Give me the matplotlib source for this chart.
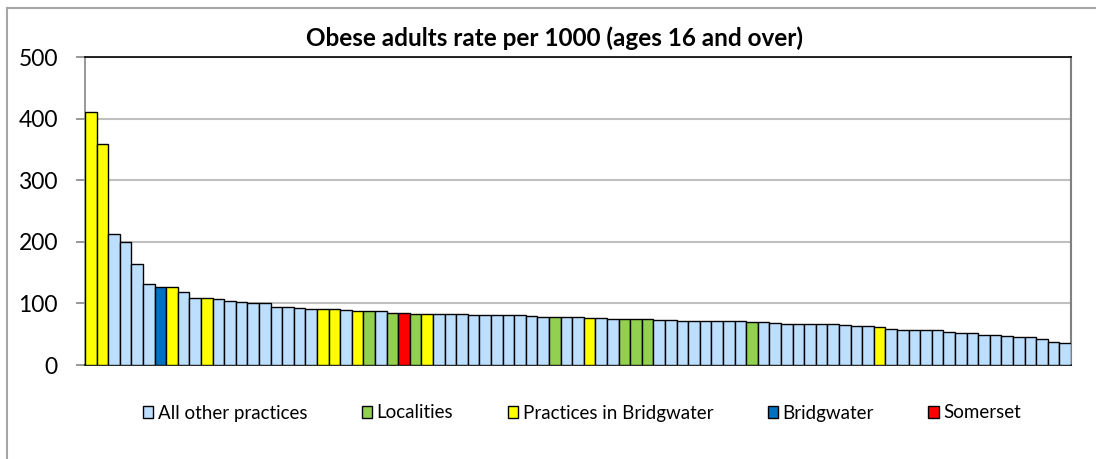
import matplotlib
matplotlib.use("Agg")
import matplotlib.pyplot as plt
import numpy as np
from matplotlib.patches import Patch
from matplotlib.lines import Line2D

# ---- data ----
values = [411, 358, 212, 200, 164, 132, 126, 126, 119, 109,
          108, 107, 104, 102, 101, 100, 94, 94, 92, 91,
          90.6, 90.3, 89.7, 87.6, 87, 87, 84.9, 83.8, 83.2, 83.2,
          82.2, 82, 82, 81.6, 81, 81, 81, 80.5, 79.5, 78.4,
          77.3, 77.3, 77.3, 76.2, 75.7, 74.6, 74, 74, 74, 73,
          72.4, 72, 71.4, 71.4, 71.4, 71.4, 70.8, 69.7, 69.2, 68.1,
          67, 67, 67, 66.5, 66, 64.3, 63.8, 63.2, 61.6, 57.8,
          56.8, 56.8, 56.2, 56.2, 53.5, 51.9, 51.9, 49.2, 48.1, 47,
          45.4, 44.9, 42.2, 37.8, 36.2]

# category of each bar: O=all other practices, L=localities, P=practices in Bridgwater,
# B=Bridgwater, S=Somerset
groups = list("PPOOOOBPOOPOOOOOOOOO"
              "PPOPLOLSLP"
              "OOOOOOOOOO"
              "LOOPOOLLLO"
              "OOOOOOOLOO"
              "OOOOOOOOPO"
              "OOOOOOOOOOOOOOO")

legend_labels = ["All other practices", "Localities", "Practices in Bridgwater",
                 "Bridgwater", "Somerset"]
legend_keys = ["O", "L", "P", "B", "S"]
colors = {"O": "#BDDFFF", "L": "#92D050", "P": "#FFFF00", "B": "#0070C0", "S": "#FF0000"}

yticks = [0, 100, 200, 300, 400, 500]
title = "Obese adults rate per 1000 (ages 16 and over)"

# ---- figure ----
plt.rcParams['font.family'] = ['Lato', 'DejaVu Sans']
W, H = 1096, 459
fig = plt.figure(figsize=(W / 100, H / 100), dpi=100)
ax = fig.add_axes([85 / W, 1 - 365 / H, (1071 - 85) / W, (365 - 57) / H])

x = np.arange(len(values))
bar_colors = [colors[g] for g in groups]
ax.bar(x, values, width=1.0, color=bar_colors, edgecolor="black", linewidth=1.0, zorder=3)

ax.set_xlim(-0.5, len(values) - 0.5)
ax.set_ylim(0, 500)
ax.set_yticks(yticks)
ax.set_yticklabels([str(t) for t in yticks], fontsize=16.5, color="black")
ax.set_xticks([])
ax.grid(axis="y", color="#BFBFBF", linewidth=1.5, zorder=0)
ax.tick_params(axis="y", length=6.5, width=1.2, color="#868686", pad=13)

ax.spines["left"].set_color("#868686")
ax.spines["left"].set_linewidth(1.2)
ax.spines["top"].set_color("black")
ax.spines["top"].set_linewidth(1.2)
ax.spines["right"].set_color("#808080")
ax.spines["right"].set_linewidth(1.5)
ax.spines["bottom"].set_color("black")
ax.spines["bottom"].set_linewidth(1.2)

fig.text(555 / W, 1 - 38 / H, title, ha="center", va="center",
         fontsize=17.5, fontweight="bold")

handles = [Patch(facecolor=colors[k], edgecolor="black", linewidth=1.0) for k in legend_keys]
leg = fig.legend(handles, legend_labels, loc="center", bbox_to_anchor=(582 / W, 1 - 413 / H),
                 ncol=5, frameon=False, fontsize=13.5, handlelength=0.55, handleheight=0.55,
                 handletextpad=0.25, columnspacing=2.9, borderaxespad=0, borderpad=0)

# outer chart frame (top and left visible)
fig.add_artist(Line2D([7 / W, 1.0], [1 - 8 / H, 1 - 8 / H], color="#A6A6A6", linewidth=1.5))
fig.add_artist(Line2D([7 / W, 7 / W], [0, 1 - 8 / H], color="#A6A6A6", linewidth=1.5))

fig.savefig("out.png", dpi=100)
